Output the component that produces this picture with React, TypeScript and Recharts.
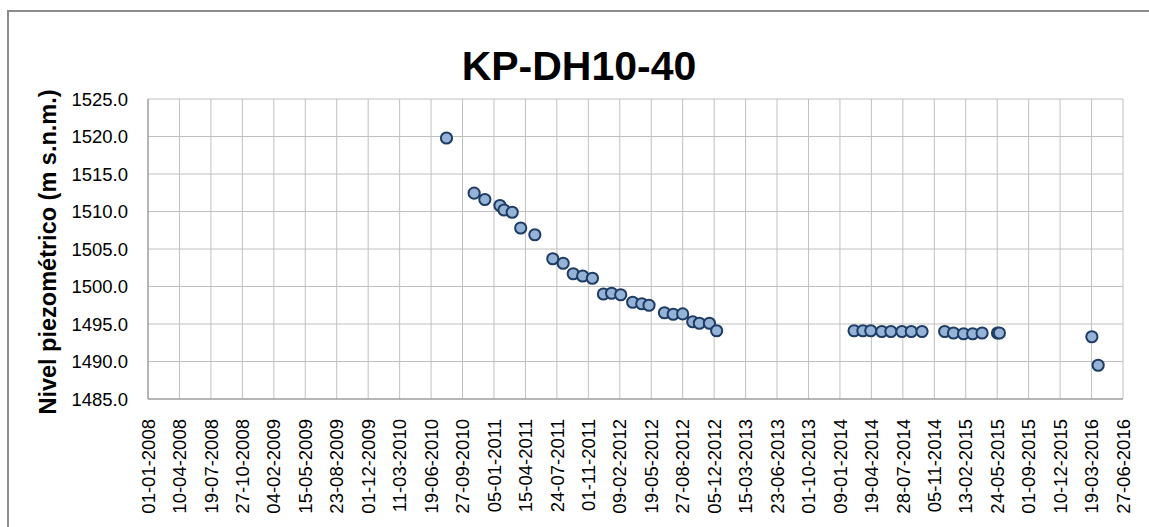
import React from 'react';
import { ScatterChart, Scatter, XAxis, YAxis, CartesianGrid } from 'recharts';

const chartTitle = 'KP-DH10-40';
const yAxisTitle = 'Nivel piezométrico (m s.n.m.)';

const measureDates = [
  '2010-08-07', '2010-11-03', '2010-12-07', '2011-01-24', '2011-02-06', '2011-03-04',
  '2011-03-31', '2011-05-15', '2011-07-11', '2011-08-13', '2011-09-14', '2011-10-14',
  '2011-11-14', '2011-12-19', '2012-01-14', '2012-02-12', '2012-03-21', '2012-04-19',
  '2012-05-12', '2012-06-30', '2012-07-28', '2012-08-27', '2012-09-28', '2012-10-19',
  '2012-11-20', '2012-12-13',
  '2014-02-23', '2014-03-23', '2014-04-17', '2014-05-22', '2014-06-20', '2014-07-25',
  '2014-08-24', '2014-09-27',
  '2014-12-08', '2015-01-05', '2015-02-06', '2015-03-07', '2015-04-06', '2015-05-25',
  '2015-05-31',
  '2016-03-20', '2016-04-09',
];

const levels = [
  1519.8, 1512.45, 1511.6, 1510.8, 1510.2, 1509.9,
  1507.8, 1506.9, 1503.7, 1503.1, 1501.7, 1501.4,
  1501.1, 1499.0, 1499.1, 1498.9, 1497.9, 1497.7,
  1497.5, 1496.5, 1496.3, 1496.35, 1495.3, 1495.1,
  1495.1, 1494.1,
  1494.1, 1494.1, 1494.1, 1494.0, 1494.0, 1494.0,
  1494.0, 1494.0,
  1494.0, 1493.8, 1493.7, 1493.7, 1493.8, 1493.8,
  1493.8,
  1493.3, 1489.5,
];

const xTickLabels = [
  '01-01-2008', '10-04-2008', '19-07-2008', '27-10-2008', '04-02-2009', '15-05-2009',
  '23-08-2009', '01-12-2009', '11-03-2010', '19-06-2010', '27-09-2010', '05-01-2011',
  '15-04-2011', '24-07-2011', '01-11-2011', '09-02-2012', '19-05-2012', '27-08-2012',
  '05-12-2012', '15-03-2013', '23-06-2013', '01-10-2013', '09-01-2014', '19-04-2014',
  '28-07-2014', '05-11-2014', '13-02-2015', '24-05-2015', '01-09-2015', '10-12-2015',
  '19-03-2016', '27-06-2016',
];

const yTicks = [1485, 1490, 1495, 1500, 1505, 1510, 1515, 1520, 1525];

const toDay = (y: number, m: number, d: number) => Date.UTC(y, m - 1, d) / 86400000;
const isoToDay = (s: string) => {
  const [y, m, d] = s.split('-').map(Number);
  return toDay(y, m, d);
};
const labelToDay = (s: string) => {
  const [d, m, y] = s.split('-').map(Number);
  return toDay(y, m, d);
};

const xTicks = xTickLabels.map(labelToDay);
const labelByDay = new Map<number, string>(xTicks.map((t, i) => [t, xTickLabels[i]]));
const data = measureDates.map((s, i) => ({ t: isoToDay(s), v: levels[i] }));

const FONT = '"Liberation Sans", Arial, sans-serif';

const DateTick = (props: any) => {
  const { x, y, payload } = props;
  return (
    <g transform={`translate(${x},${y})`}>
      <text
        transform="rotate(-90)"
        x={-12}
        y={0}
        dy="0.36em"
        textAnchor="end"
        fontFamily={FONT}
        fontSize={18.5}
        fill="#000"
      >
        {labelByDay.get(payload.value) ?? ''}
      </text>
    </g>
  );
};

const Dot = (props: any) => {
  const { cx, cy } = props;
  if (cx == null || cy == null) return null;
  return <circle cx={cx} cy={cy} r={5.6} fill="#95B3D7" stroke="#1F3C64" strokeWidth={2} />;
};

const YTitle = (props: any) => {
  const vb = props.viewBox || {};
  const cy = (vb.y ?? 99) + (vb.height ?? 300) / 2 + 3;
  const cx = 47.5;
  return (
    <text
      x={cx}
      y={cy}
      transform={`rotate(-90, ${cx}, ${cy})`}
      textAnchor="middle"
      dominantBaseline="central"
      fontFamily={FONT}
      fontWeight="bold"
      fontSize={23.5}
      fill="#000"
    >
      {yAxisTitle}
    </text>
  );
};

export default function App() {
  return (
    <div
      style={{
        position: 'absolute',
        left: 0,
        top: 0,
        width: 1149,
        height: 527,
        background: '#fff',
        overflow: 'hidden',
      }}
    >
      <div
        style={{
          position: 'absolute',
          left: 7,
          top: 10,
          width: 1300,
          height: 700,
          borderLeft: '2px solid #8c8c8c',
          borderTop: '2px solid #8c8c8c',
        }}
      />
      <div
        style={{
          position: 'absolute',
          left: 9,
          top: 46,
          width: 1140,
          textAlign: 'center',
          fontFamily: FONT,
          fontWeight: 'bold',
          fontSize: 41,
          lineHeight: '41px',
          color: '#000',
        }}
      >
        {chartTitle}
      </div>
      <div style={{ position: 'absolute', left: 0, top: 0 }}>
        <ScatterChart
          width={1149}
          height={527}
          margin={{ top: 99, right: 26, bottom: 8, left: 0 }}
        >
          <CartesianGrid stroke="#c0c0c0" strokeWidth={1} />
          <XAxis
            type="number"
            dataKey="t"
            domain={[xTicks[0], xTicks[xTicks.length - 1]]}
            ticks={xTicks}
            interval={0}
            allowDataOverflow
            height={120}
            tickLine={false}
            axisLine={{ stroke: '#8c8c8c', strokeWidth: 1 }}
            tick={<DateTick />}
          />
          <YAxis
            type="number"
            dataKey="v"
            domain={[1485, 1525]}
            ticks={yTicks}
            interval={0}
            allowDataOverflow
            width={148}
            tickLine={false}
            tickMargin={14}
            axisLine={{ stroke: '#8c8c8c', strokeWidth: 1 }}
            tick={{ fontFamily: FONT, fontSize: 18.5, fill: '#000' }}
            tickFormatter={(v: number) => v.toFixed(1)}
            label={{ content: (p: any) => <YTitle {...p} /> }}
          />
          <Scatter data={data} isAnimationActive={false} shape={(p: any) => <Dot {...p} />} />
        </ScatterChart>
      </div>
    </div>
  );
}
